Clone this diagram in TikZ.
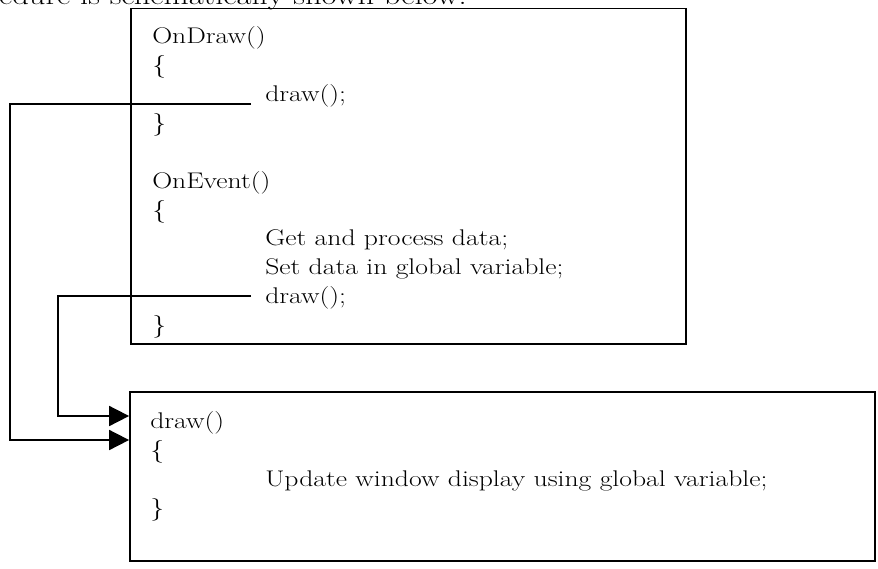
\documentclass[tikz,border=0pt]{standalone}
\usepackage{fontspec}
\setmainfont{Latin Modern Roman}[FakeStretch=1.22]
\usetikzlibrary{arrows.meta}
\begin{document}
\begin{tikzpicture}[
        x=0.75pt, y=-0.75pt,
        font=\fontsize{17pt}{20pt}\selectfont,
        box/.style={rectangle, draw, line width=1.3pt, inner sep=0pt},
        code/.style={anchor=base west, inner sep=0pt},
        link/.style={line width=1.3pt, -{Triangle[length=15pt, width=15pt]}}
    ]
    \useasboundingbox (0,0) rectangle (878,568);
    \begin{scope}
        \clip (0,0) rectangle (878,568);
        \node[anchor=base east, inner sep=0pt, font=\fontsize{20pt}{24pt}\selectfont] (intro) at (467,4) {procedure is schematically shown below.};
    \end{scope}
    \node[box, minimum width=416.25pt, minimum height=251.6pt] (events) at (408.5,176.25) {};
    \node[box, minimum width=558.75pt, minimum height=126.75pt] (drawfn) at (502.5,476.5) {};
    \node[code] (ondraw) at (152,43) {OnDraw()};
    \node[code] (ondrawopen) at (152,72) {\{};
    \node[code] (callA) at (265,101) {draw();};
    \node[code] (ondrawclose) at (152,130) {\}};
    \node[code] (onevent) at (152,188) {OnEvent()};
    \node[code] (oneventopen) at (152,217) {\{};
    \node[code] (getdata) at (265,245) {Get and process data;};
    \node[code] (setdata) at (265,274) {Set data in global variable;};
    \node[code] (callB) at (265,303) {draw();};
    \node[code] (oneventclose) at (152,332) {\}};
    \node[code] (drawhead) at (150,428) {draw()};
    \node[code] (drawopen) at (150,457) {\{};
    \node[code] (update) at (265,486) {Update window display using global variable;};
    \node[code] (drawclose) at (150,515) {\}};
    \draw[link] ([shift={(-14,3)}]callA.base west) -- ++(-241,0) |- ([shift={(0,-36.5)}]drawfn.west);
    \draw[link] ([shift={(-14,-7)}]callB.base west) -- ++(-193,0) |- ([shift={(0,-60.5)}]drawfn.west);
\end{tikzpicture}
\end{document}
